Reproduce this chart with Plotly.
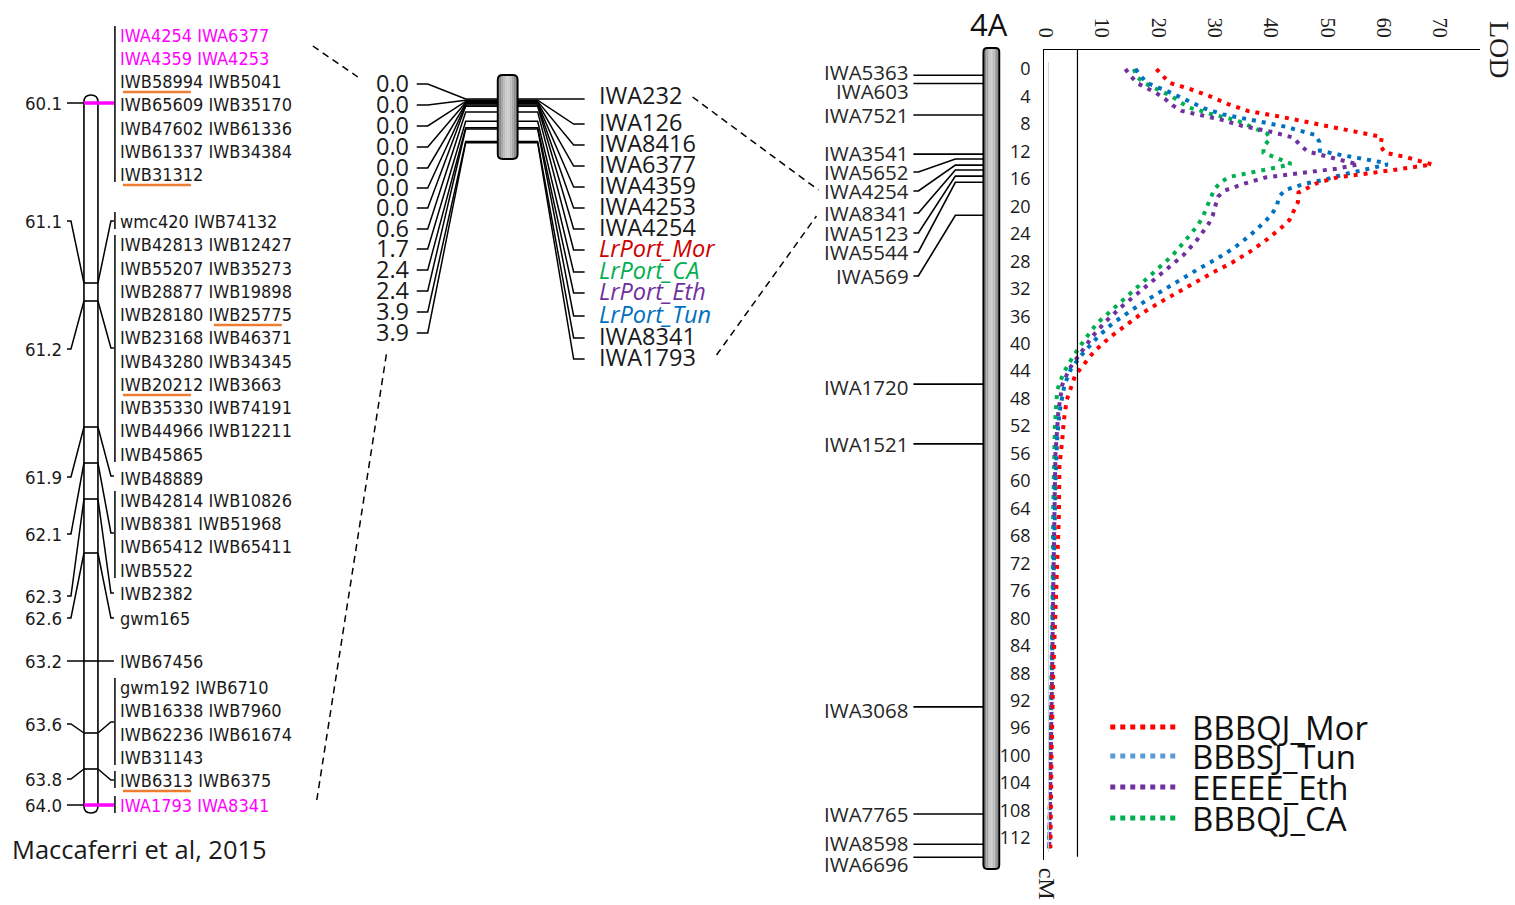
import plotly.graph_objects as go

W, H = 1515, 905

# ---------------- data ----------------
series_names = ["BBBQJ_Mor", "BBBSJ_Tun", "EEEEE_Eth", "BBBQJ_CA"]
series_colors = ["#FF0000", "#0070C0", "#7030A0", "#00B050"]
legend_colors = ["#FF0000", "#5B9BD5", "#7030A0", "#00B050"]

mor_cm = [0, 2.0, 2.9, 3.9, 5.1, 6.1, 6.9, 7.8, 8.6, 9.5, 9.9, 11.2, 12.2, 12.8, 13.6, 13.9,
          14.8, 15.8, 16.6, 17.3, 18.0, 19.4, 20.8, 22.0, 23.0, 24.9, 26.6, 28.2, 29.6, 31.1,
          32.5, 34.0, 35.6, 37.3, 39.1, 41.2, 43.4, 44.6, 48.2, 51.1, 54.0, 57.9, 65.2, 72.5,
          80, 88, 100, 113.5]
mor_lod = [19.7, 22.0, 25.6, 29.0, 32.4, 35.9, 41.4, 46.9, 52.3, 57.9, 59.7, 59.4, 60.3, 63.8,
           67.4, 68.6, 60.9, 51.7, 48.2, 46.4, 44.9, 44.8, 44.0, 43.3, 42.0, 39.2, 36.3, 33.1,
           29.8, 26.6, 23.3, 20.3, 17.1, 14.2, 11.4, 8.6, 6.5, 5.3, 3.8, 3.3, 3.0, 2.5, 2.4, 2.1,
           1.7, 1.4, 1.1, 0.9]

tun_cm = [0, 2.0, 3.1, 4.4, 5.7, 6.6, 7.2, 7.8, 8.4, 9.2, 9.6, 10.6, 11.9, 12.5, 13.1, 13.6,
          13.9, 14.6, 15.3, 16.1, 16.7, 17.6, 18.6, 19.9, 21.1, 22.2, 24.3, 26.1, 27.7, 29.1,
          30.6, 32.1, 33.7, 35.3, 37.0, 39.1, 41.3, 43.6, 46, 50, 54, 60, 68, 76, 88, 100, 113.5]
tun_lod = [16.0, 17.9, 21.3, 24.8, 28.1, 31.5, 35.2, 39.0, 42.6, 46.1, 47.9, 48.6, 48.7, 52.3,
           56.1, 59.8, 60.7, 56.9, 53.2, 49.6, 46.1, 42.6, 41.4, 41.1, 40.2, 39.0, 36.2, 33.4,
           30.3, 27.2, 24.1, 21.0, 17.9, 15.0, 12.0, 9.2, 6.8, 4.6, 3.4, 2.5, 2.1, 1.8, 1.6, 1.4,
           1.1, 0.9, 0.7]

eth_cm = [0, 1.0, 2.1, 3.5, 4.4, 5.3, 6.1, 6.7, 7.4, 8.3, 9.2, 10.0, 11.1, 12.0, 12.4, 13.2,
          13.9, 14.5, 15.0, 15.4, 15.8, 16.7, 17.7, 18.6, 19.9, 21.3, 22.5, 24.9, 27.1, 29.0,
          31.0, 32.8, 34.7, 36.7, 38.9, 41.3, 43.6, 46, 50, 56, 64, 76, 88, 100, 113.5]
eth_lod = [14.2, 15.1, 16.4, 19.7, 21.3, 22.6, 24.2, 27.8, 31.3, 35.0, 40.4, 44.0, 45.2, 46.5,
           48.3, 52.0, 55.5, 51.8, 46.3, 42.6, 39.0, 35.3, 31.8, 30.6, 30.1, 29.7, 29.0, 26.9,
           24.5, 21.8, 18.9, 16.2, 13.4, 10.8, 8.4, 6.3, 4.3, 3.0, 2.3, 1.8, 1.6, 1.4, 1.2, 0.9,
           0.7]

ca_cm = [0, 1.2, 2.1, 3.3, 4.0, 4.8, 5.6, 6.0, 6.5, 7.2, 7.7, 8.3, 8.8, 9.4, 10.2, 11.3, 12.2,
         12.8, 13.3, 13.8, 14.2, 14.8, 15.3, 15.7, 16.4, 17.5, 18.8, 20.1, 21.4, 22.7, 23.9,
         25.0, 27.2, 29.2, 31.1, 33.1, 35.1, 37.1, 39.5, 41.9, 44.3, 46.8, 52, 56, 64, 76, 88,
         100, 113.5]
ca_lod = [15.7, 16.3, 17.7, 20.9, 22.5, 23.9, 25.4, 27.2, 29.1, 32.6, 34.6, 36.2, 37.8, 39.3,
          39.8, 38.7, 38.7, 40.5, 42.3, 43.6, 41.8, 38.1, 34.5, 32.7, 31.2, 30.0, 29.3, 28.7,
          28.0, 27.1, 26.0, 24.8, 22.5, 19.8, 17.0, 14.3, 11.7, 9.1, 6.9, 4.9, 3.2, 2.1, 1.7,
          1.6, 1.4, 1.3, 1.1, 0.9, 0.7]

lod_threshold = 5.7
lod_ticks = [0, 10, 20, 30, 40, 50, 60, 70]
cm_ticks = [0, 4, 8, 12, 16, 20, 24, 28, 32, 36, 40, 44, 48, 52, 56, 60, 64, 68, 72, 76, 80,
            84, 88, 92, 96, 100, 104, 108, 112]

# 4A linkage map
map4a_markers = ["IWA5363", "IWA603", "IWA7521", "IWA3541", "IWA5652", "IWA4254", "IWA8341",
                 "IWA5123", "IWA5544", "IWA569", "IWA1720", "IWA1521", "IWA3068", "IWA7765",
                 "IWA8598", "IWA6696"]
map4a_cm = [0.9, 2.1, 6.7, 12.4, 13.1, 14.0, 14.7, 15.6, 16.5, 21.3, 45.9, 54.6, 92.9, 108.5,
            112.9, 114.8]

# middle (zoomed) map
mid_left_cm = [0.0, 0.0, 0.0, 0.0, 0.0, 0.0, 0.0, 0.6, 1.7, 2.4, 2.4, 3.9, 3.9]
mid_right_markers = ["IWA232", "IWA126", "IWA8416", "IWA6377", "IWA4359", "IWA4253", "IWA4254",
                     "LrPort_Mor", "LrPort_CA", "LrPort_Eth", "LrPort_Tun", "IWA8341", "IWA1793"]

# Maccaferri et al. 2015 consensus map
left_map_cm = [60.1, 61.1, 61.2, 61.9, 62.1, 62.3, 62.6, 63.2, 63.6, 63.8, 64.0]
left_map_rows = [
    ["IWA4254 IWA6377", "IWA4359 IWA4253", "IWB58994 IWB5041", "IWB65609 IWB35170",
     "IWB47602 IWB61336", "IWB61337 IWB34384", "IWB31312"],
    ["wmc420 IWB74132"],
    ["IWB42813 IWB12427", "IWB55207 IWB35273", "IWB28877 IWB19898", "IWB28180 IWB25775",
     "IWB23168 IWB46371", "IWB43280 IWB34345", "IWB20212 IWB3663", "IWB35330 IWB74191",
     "IWB44966 IWB12211", "IWB45865"],
    ["IWB48889"],
    ["IWB42814 IWB10826", "IWB8381 IWB51968", "IWB65412 IWB65411", "IWB5522"],
    ["IWB2382"],
    ["gwm165"],
    ["IWB67456"],
    ["gwm192 IWB6710", "IWB16338 IWB7960", "IWB62236 IWB61674", "IWB31143"],
    ["IWB6313 IWB6375"],
    ["IWA1793 IWA8341"],
]
highlight_markers = ["IWA4254", "IWA6377", "IWA4359", "IWA4253", "IWA1793", "IWA8341"]
underlined_markers = ["IWB58994", "IWB31312", "IWB25775", "IWB20212", "IWB6313"]

# ---------------- layout helpers ----------------
shapes, annots = [], []

# small horizontal correction so that page coordinates land where intended
XOFF, XSC = 8.0, 1507.0 / 1515.0


def X(x):
    return ((x - XOFF) / XSC) / W


def Y(y):
    return 1 - y / H


def seg(pts, color="black", width=1.5, dash=None):
    d = "M " + " L ".join(f"{X(a):.5f},{Y(b):.5f}" for a, b in pts)
    ln = dict(color=color, width=width)
    if dash:
        ln["dash"] = dash
    shapes.append(dict(type="path", xref="paper", yref="paper", path=d, line=ln,
                       fillcolor="rgba(0,0,0,0)"))


def txt(x, y, s, size, color="#1a1a1a", family="Open Sans", xa="left", ya="middle", angle=0):
    al = xa if xa in ("left", "right") else "center"
    annots.append(dict(x=X(x), y=Y(y), xref="paper", yref="paper", text=s, showarrow=False,
                       font=dict(size=size, color=color, family=family), xanchor=xa,
                       yanchor=ya, textangle=angle, borderpad=0, align=al))


def rrect(x0, y0, x1, y1, r, line_color="black", width=1.5, fill="rgba(0,0,0,0)"):
    p = [("M", [(x0 + r, y0)]), ("L", [(x1 - r, y0)]), ("Q", [(x1, y0), (x1, y0 + r)]),
         ("L", [(x1, y1 - r)]), ("Q", [(x1, y1), (x1 - r, y1)]), ("L", [(x0 + r, y1)]),
         ("Q", [(x0, y1), (x0, y1 - r)]), ("L", [(x0, y0 + r)]), ("Q", [(x0, y0), (x0 + r, y0)])]
    d = " ".join(c + " " + " ".join(f"{X(a):.5f},{Y(b):.5f}" for a, b in pts) for c, pts in p) + " Z"
    shapes.append(dict(type="path", xref="paper", yref="paper", path=d,
                       line=dict(color=line_color, width=width), fillcolor=fill))


def grad_bar(x0, y0, x1, y1, r, n=10):
    import math
    mid, half = (x0 + x1) / 2, (x1 - x0) / 2
    for i in range(n):
        xa = x0 + (x1 - x0) * i / n
        xb = x0 + (x1 - x0) * (i + 1) / n
        xc = (xa + xb) / 2
        t = abs(xc - mid) / half
        g = int(205 - 120 * t ** 1.6)
        dist = min(xc - x0, x1 - xc)
        inset = r - math.sqrt(max(r * r - (r - dist) ** 2, 0)) if dist < r else 0
        shapes.append(dict(type="rect", xref="paper", yref="paper", x0=X(xa), x1=X(xb),
                           y0=Y(y0 + inset), y1=Y(y1 - inset),
                           line=dict(width=0), fillcolor=f"rgb({g},{g},{g})"))
    rrect(x0, y0, x1, y1, r, width=1.8)


# ---------------- LOD plot geometry (axes) ----------------
PX0, PX1, PY0, PY1 = 1044, 1480, 50, 860
lod_range = [-0.18, 77.1]
cm_range = [115.2, -2.77]


def cm_to_px(c):
    return PY0 + (c - cm_range[1]) / (cm_range[0] - cm_range[1]) * (PY1 - PY0)


fig = go.Figure()
for name, cm, lod, col in [("BBBQJ_CA", ca_cm, ca_lod, series_colors[3]),
                           ("EEEEE_Eth", eth_cm, eth_lod, series_colors[2]),
                           ("BBBSJ_Tun", tun_cm, tun_lod, series_colors[1]),
                           ("BBBQJ_Mor", mor_cm, mor_lod, series_colors[0])]:
    fig.add_trace(go.Scatter(x=lod, y=cm, mode="lines", name=name, showlegend=False,
                             hoverinfo="skip",
                             line=dict(color=col, width=4, dash="4px,6px")))

# threshold & faint zero line
shapes.append(dict(type="line", xref="x", yref="y domain", x0=lod_threshold, x1=lod_threshold,
                   y0=0.004, y1=1, line=dict(color="black", width=1.2)))
shapes.append(dict(type="line", xref="x", yref="y domain", x0=0.55, x1=0.55,
                   y0=0.01, y1=0.985, line=dict(color="#d0d0d0", width=1)))

txt(1499, 50, "LOD", 28, "#1a1a1a", "Liberation Serif", "center", "middle", 90)
txt(1047, 884, "cM", 24, "#1a1a1a", "Liberation Serif", "center", "middle", 90)

# legend (manual)
leg_y = [727, 756, 787, 818]
for nm, col, yy in zip(series_names, legend_colors, leg_y):
    seg([(1110, yy), (1178, yy)], color=col, width=5, dash="5px,5px")
    txt(1191, yy, nm, 33, "#111", "Open Sans", "left", "middle")

# ---------------- 4A map ----------------
grad_bar(983, 48, 999, 869, 4)
txt(989, 24, "4A", 31, "#111", "Open Sans", "center", "middle")
map4a_label_y = [72, 91, 115, 153, 172, 191, 213, 233, 252, 276, 387, 444, 710, 814, 843, 864]
for nm, c, ly in zip(map4a_markers, map4a_cm, map4a_label_y):
    my = cm_to_px(c)
    if abs(ly - my) > 9 and c < 30:
        seg([(913, ly), (918, ly), (955, my), (983, my)], width=1.6)
    else:
        seg([(913, my), (983, my)], width=1.6)
    txt(910, ly, nm, 20.5, "#262626", "Open Sans", "right", "middle")

# ---------------- middle map ----------------
mid_left_y = [83, 104, 125, 146, 167, 187, 207, 228, 248, 269, 290, 311, 332]
mid_right_y = [95, 122, 143, 164, 185, 206, 227, 248, 270, 291, 314, 336, 357]
mid_right_colors = ["#1a1a1a"] * 7 + ["#D00000", "#00B050", "#7030A0", "#0070C0", "#1a1a1a", "#1a1a1a"]
for i, c in enumerate(mid_left_cm):
    ay = 99 + 7.5 * c + 1.2 * i  # spread of coincident markers on the bar
    ly = mid_left_y[i]
    seg([(416, ly + 1), (427, ly + 1), (465, ay), (497, ay)], width=1.5)
    txt(409, ly, f"{c:.1f}", 23.5, "#1a1a1a", "Open Sans", "right", "middle")
    ry = mid_right_y[i] + 2
    if i == 0:
        seg([(517, ay), (584, ay)], width=1.5)
    else:
        seg([(517, ay), (537, ay), (573, ry), (584, ry)], width=1.5)
for i, nm in enumerate(mid_right_markers):
    s = f"<i>{nm}</i>" if nm.startswith("LrPort") else nm
    txt(597, mid_right_y[i], s, 23.5, mid_right_colors[i], "Open Sans", "left", "middle")
grad_bar(497, 75, 517, 159, 5)

# dashed zoom lines
seg([(312, 46), (357, 77)], width=1.5, dash="7px,5px")
seg([(316, 800), (386, 352)], width=1.5, dash="7px,5px")
seg([(692, 97), (818, 190)], width=1.5, dash="7px,5px")
seg([(716, 355), (816, 216)], width=1.5, dash="7px,5px")

# ---------------- left consensus map ----------------
def lm(c):
    return 103 + 180 * (c - 60.1)


rrect(83, 95, 97, 813, 7, width=1.6, fill="white")
left_label_y = [103, 221, 349, 477, 534, 596, 618, 661, 724, 779, 805]
right_conn_y = [103, 221, 348, 476, 533, 593, 618, 661, 722, 780, 805]
rows_y = [[35, 58, 81, 104, 128, 151, 174], [221],
          [244, 268, 291, 314, 337, 361, 384, 407, 430, 454], [478],
          [500, 523, 546, 570], [593], [618], [661], [687, 710, 734, 757], [780], [805]]
bracket = [True, True, True, False, True, False, False, False, True, True, True]
LF = "DejaVu Sans Condensed, Liberation Sans"
for k, c in enumerate(left_map_cm):
    my = lm(c)
    ly = left_label_y[k]
    ry = right_conn_y[k]
    pink = k in (0, len(left_map_cm) - 1)
    # left connector
    if abs(ly - my) < 1:
        seg([(66, ly), (83, my)], width=1.5)
    else:
        seg([(66, ly), (70, ly), (83, my)], width=1.5)
    txt(62, ly, f"{c:.1f}", 18.5, "#1a1a1a", LF, "right", "middle")
    # across the chromosome
    if pink:
        seg([(83, my), (113, my)], color="#FF00FF", width=3.5)
    else:
        seg([(83, my), (97, my)], width=1.6)
        if abs(ry - my) < 1:
            seg([(97, my), (113, ry)], width=1.5)
        else:
            seg([(97, my), (110, ry), (113, ry)], width=1.5)
    rys = rows_y[k]
    if bracket[k]:
        seg([(114, min(rys) - 9), (114, max(rys) + 8)], width=1.5)
    for s, yy in zip(left_map_rows[k], rys):
        words = s.split()
        col = "#FF00FF" if words[0] in highlight_markers else "#1a1a1a"
        txt(118, yy, s, 18, col, LF, "left", "middle")
        for wi, wd in enumerate(words):
            if wd in underlined_markers:
                ux = 122 + wi * 91
                seg([(ux, yy + 11), (ux + 68, yy + 11)], color="#ED7D31", width=2.5)

txt(10, 849, "Maccaferri et al, 2015", 25.5, "#1a1a1a", "Open Sans", "left", "middle")

fig.update_layout(
    width=W, height=H, margin=dict(l=0, r=0, t=0, b=0),
    paper_bgcolor="white", plot_bgcolor="white", showlegend=False,
    xaxis=dict(domain=[X(PX0), X(PX1)], range=lod_range, side="top", tickvals=lod_ticks,
               tickangle=90, showgrid=False, zeroline=False, showline=True,
               linecolor="black", linewidth=1.3, ticks="",
               tickfont=dict(family="Liberation Serif", size=20, color="#1a1a1a"),
               ticklabelstandoff=4),
    yaxis=dict(domain=[1 - PY1 / H, 1 - PY0 / H], range=cm_range, tickvals=cm_ticks,
               showgrid=False, zeroline=False, showline=True, linecolor="black",
               linewidth=1.3, ticks="",
               tickfont=dict(family="Open Sans", size=18, color="#1a1a1a"),
               ticklabelstandoff=9),
    shapes=shapes, annotations=annots,
)
fig.write_html("out.html")
